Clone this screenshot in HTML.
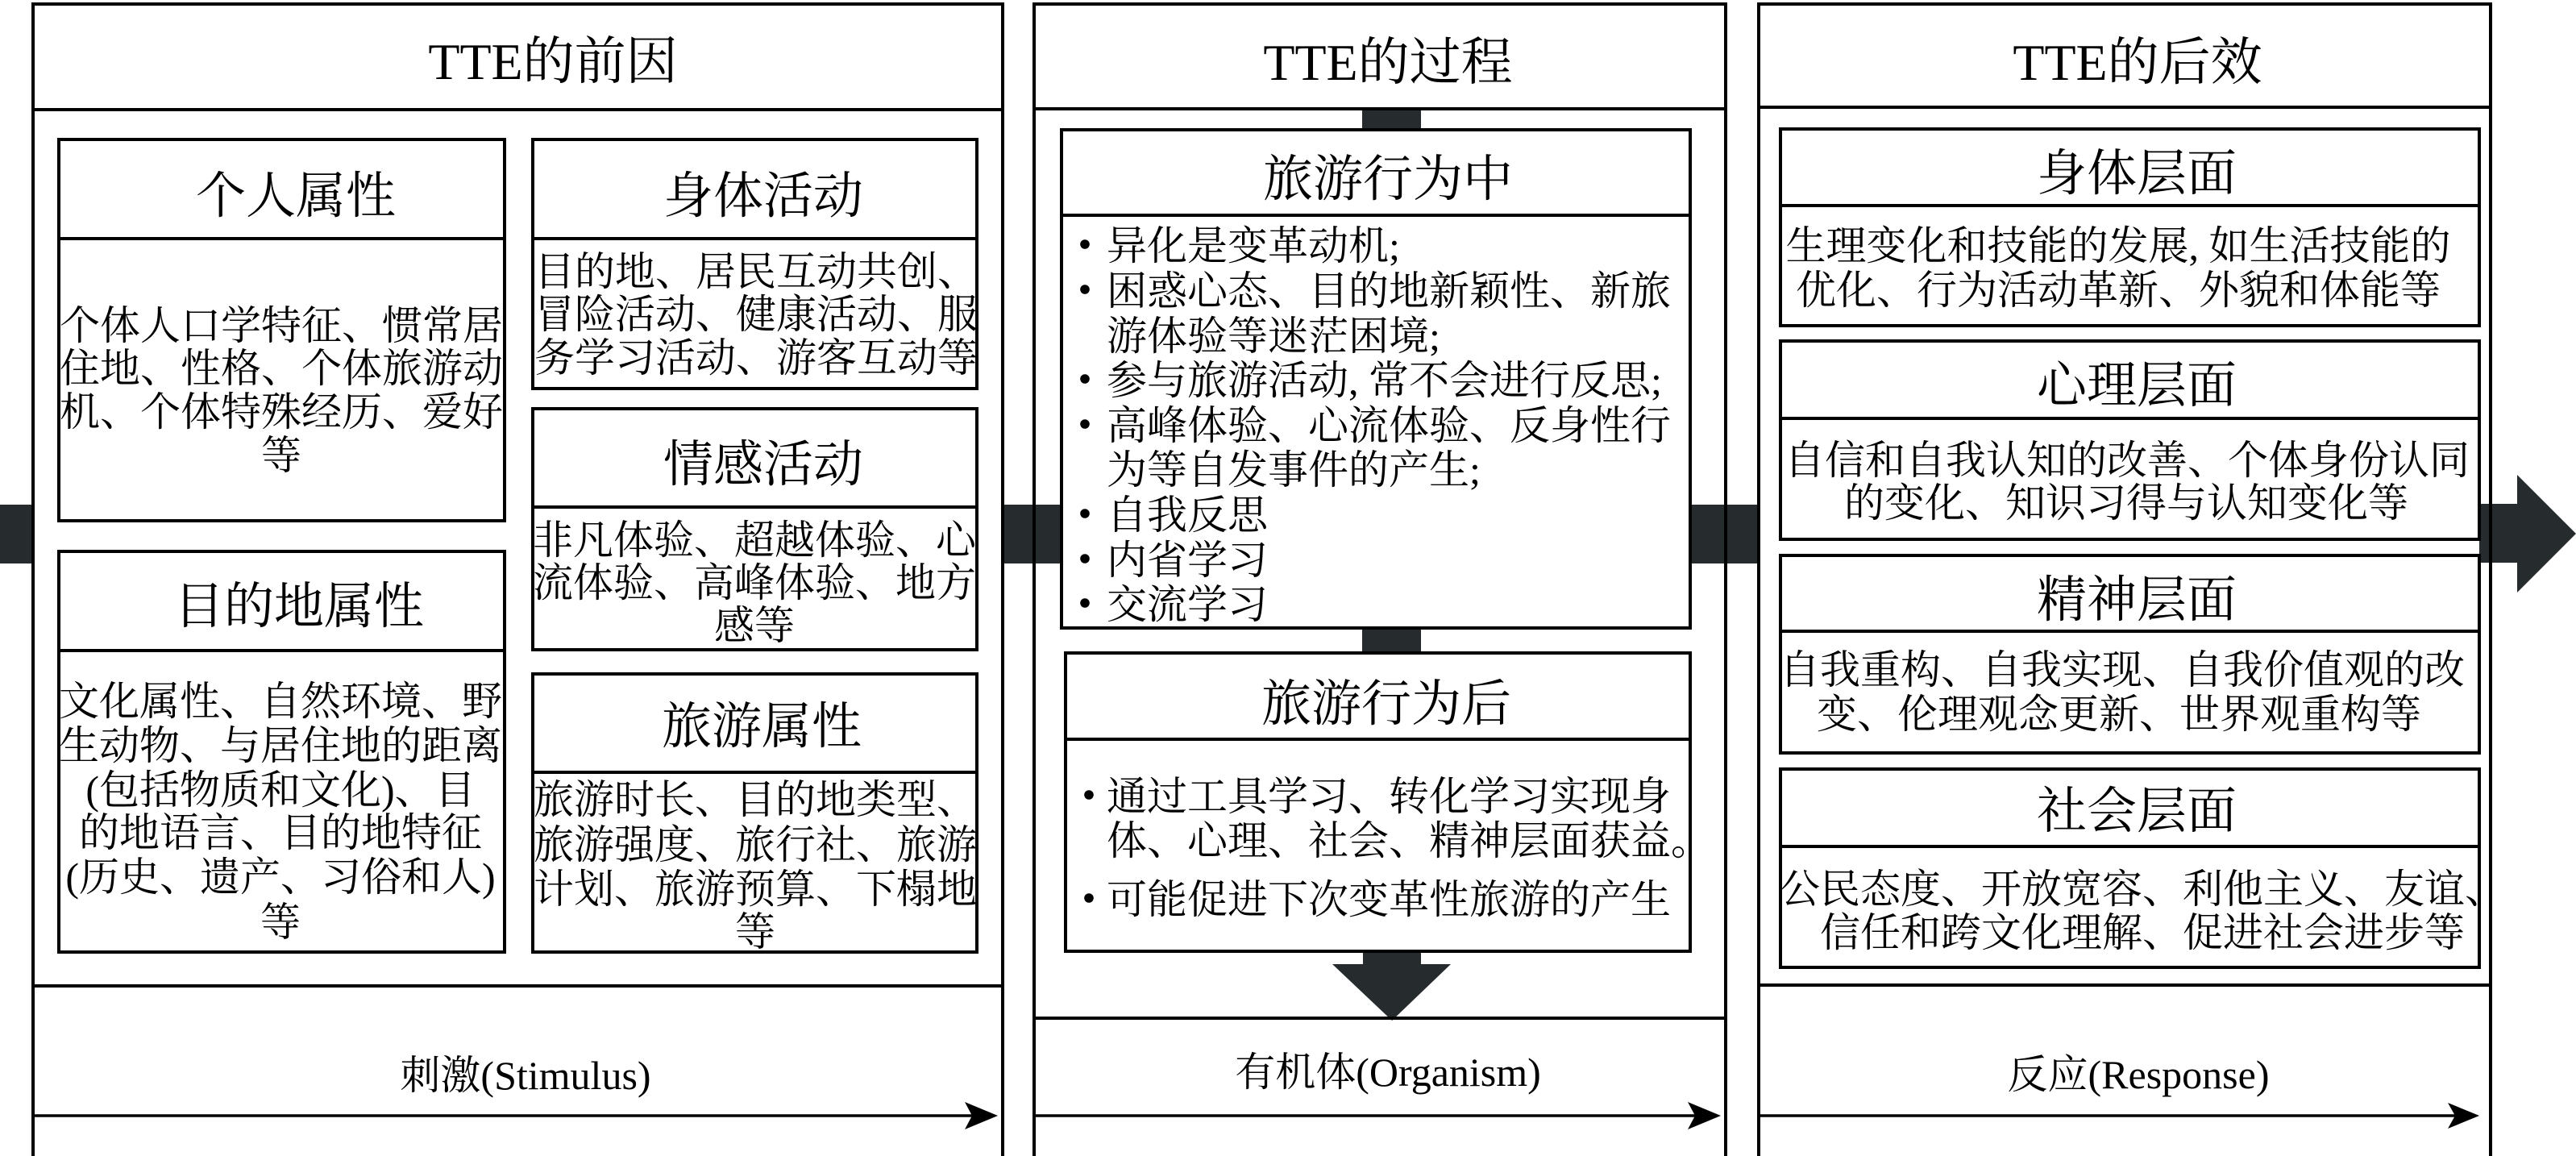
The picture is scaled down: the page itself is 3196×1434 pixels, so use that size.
<!DOCTYPE html>
<html><head><meta charset="utf-8"><style>
html,body{margin:0;padding:0;background:#fff;}
body{width:3196px;height:1434px;position:relative;overflow:hidden;}
svg{position:absolute;left:0;top:0;}
.t{position:absolute;white-space:nowrap;text-align:center;width:1000px;color:#000;font-family:"Liberation Serif","Noto Serif CJK SC",serif;}
.ti{font-size:64px;line-height:70px;height:70px;}
.h{font-size:62px;line-height:70px;height:70px;}
.b{font-size:50px;line-height:60px;height:60px;}
.l{text-align:left;width:auto;}
</style></head><body>
<svg width="3196" height="1434" viewBox="0 0 3196 1434">
<g fill="#262c2e">
<rect x="0" y="626" width="41" height="73"/>
<rect x="1244" y="626" width="73" height="73"/>
<rect x="2097" y="626" width="85" height="73"/>
<rect x="3076" y="625" width="48" height="73"/>
<polygon points="3123,589 3196,662 3123,735"/>
<rect x="1690" y="135" width="73" height="26"/>
<rect x="1690" y="779" width="73" height="32"/>
<rect x="1691" y="1178" width="72" height="20"/>
<polygon points="1653,1196 1800,1196 1727,1266"/>
</g>
<g fill="none" stroke="#000" stroke-width="4">
<rect x="41" y="5" width="1203" height="1440"/>
<line x1="41" y1="136" x2="1244" y2="136"/>
<line x1="41" y1="1223" x2="1244" y2="1223"/>
<rect x="1283" y="5" width="858" height="1440"/>
<line x1="1283" y1="135" x2="2141" y2="135"/>
<line x1="1283" y1="1263" x2="2141" y2="1263"/>
<rect x="2182" y="5" width="908" height="1440"/>
<line x1="2182" y1="133" x2="3090" y2="133"/>
<line x1="2182" y1="1222" x2="3090" y2="1222"/>

<rect x="73" y="173" width="553" height="473"/>
<line x1="73" y1="296" x2="626" y2="296"/>
<rect x="661" y="173" width="551" height="309"/>
<line x1="661" y1="296" x2="1212" y2="296"/>
<rect x="661" y="507" width="551" height="299"/>
<line x1="661" y1="629" x2="1212" y2="629"/>
<rect x="73" y="684" width="553" height="497"/>
<line x1="73" y1="807" x2="626" y2="807"/>
<rect x="661" y="836" width="551" height="345"/>
<line x1="661" y1="958" x2="1212" y2="958"/>

<rect x="1317" y="161" width="780" height="618"/>
<line x1="1317" y1="267" x2="2097" y2="267"/>
<rect x="1322" y="810" width="775" height="370"/>
<line x1="1322" y1="917" x2="2097" y2="917"/>

<rect x="2209" y="160" width="867" height="244"/>
<line x1="2209" y1="255" x2="3076" y2="255"/>
<rect x="2209" y="423" width="867" height="246"/>
<line x1="2209" y1="519" x2="3076" y2="519"/>
<rect x="2209" y="689" width="867" height="245"/>
<line x1="2209" y1="783" x2="3076" y2="783"/>
<rect x="2209" y="954" width="867" height="246"/>
<line x1="2209" y1="1050" x2="3076" y2="1050"/>
</g>
<g stroke="#000" stroke-width="3.6">
<line x1="43" y1="1384" x2="1210" y2="1384"/>
<line x1="1285" y1="1384" x2="2106" y2="1384"/>
<line x1="2184" y1="1384" x2="3047" y2="1384"/>
</g>
<g fill="#000">
<polygon points="1238,1384 1197,1367 1206,1384 1197,1401"/>
<polygon points="2135,1384 2094,1367 2103,1384 2094,1401"/>
<polygon points="3076,1384 3037,1368 3046,1384 3037,1400"/>
<circle cx="1346" cy="303" r="5.8"/>
<circle cx="1346" cy="359" r="5.8"/>
<circle cx="1346" cy="470" r="5.8"/>
<circle cx="1346" cy="526" r="5.8"/>
<circle cx="1346" cy="637" r="5.8"/>
<circle cx="1346" cy="693" r="5.8"/>
<circle cx="1346" cy="748" r="5.8"/>
<circle cx="1351" cy="986" r="5.8"/>
<circle cx="1351" cy="1114" r="5.8"/>
</g>
</svg>

<div class="t ti" style="left:186px;top:42px;">TTE的前因</div>
<div class="t ti" style="left:1222px;top:43px;">TTE的过程</div>
<div class="t ti" style="left:2152px;top:43px;">TTE的后效</div>

<div class="t h" style="left:-133px;top:209px;">个人属性</div>
<div class="t h" style="left:447px;top:209px;">身体活动</div>
<div class="t h" style="left:447px;top:542px;">情感活动</div>
<div class="t h" style="left:-129px;top:718px;">目的地属性</div>
<div class="t h" style="left:445px;top:867px;">旅游属性</div>
<div class="t h" style="left:1222px;top:188px;">旅游行为中</div>
<div class="t h" style="left:1220px;top:839px;">旅游行为后</div>
<div class="t h" style="left:2151px;top:181px;">身体层面</div>
<div class="t h" style="left:2151px;top:444px;">心理层面</div>
<div class="t h" style="left:2151px;top:710px;">精神层面</div>
<div class="t h" style="left:2151px;top:972px;">社会层面</div>

<div class="t b" style="left:-151px;top:374px;">个体人口学特征、惯常居</div>
<div class="t b" style="left:-151px;top:427px;">住地、性格、个体旅游动</div>
<div class="t b" style="left:-151px;top:481px;">机、个体特殊经历、爱好</div>
<div class="t b" style="left:-151px;top:535px;">等</div>

<div class="t b" style="left:438px;top:307px;">目的地、居民互动共创、</div>
<div class="t b" style="left:438px;top:360px;">冒险活动、健康活动、服</div>
<div class="t b" style="left:438px;top:414px;">务学习活动、游客互动等</div>

<div class="t b" style="left:436px;top:640px;">非凡体验、超越体验、心</div>
<div class="t b" style="left:436px;top:693px;">流体验、高峰体验、地方</div>
<div class="t b" style="left:436px;top:746px;">感等</div>

<div class="t b" style="left:-152px;top:840px;">文化属性、自然环境、野</div>
<div class="t b" style="left:-152px;top:895px;">生动物、与居住地的距离</div>
<div class="t b" style="left:-152px;top:950px;">(包括物质和文化)、目</div>
<div class="t b" style="left:-152px;top:1003px;">的地语言、目的地特征</div>
<div class="t b" style="left:-152px;top:1058px;">(历史、遗产、习俗和人)</div>
<div class="t b" style="left:-152px;top:1114px;">等</div>

<div class="t b" style="left:437px;top:962px;">旅游时长、目的地类型、</div>
<div class="t b" style="left:437px;top:1018px;">旅游强度、旅行社、旅游</div>
<div class="t b" style="left:437px;top:1073px;">计划、旅游预算、下榻地</div>
<div class="t b" style="left:437px;top:1126px;">等</div>

<div class="t b l" style="left:1373px;top:275px;">异化是变革动机;</div>
<div class="t b l" style="left:1373px;top:331px;">困惑心态、目的地新颖性、新旅</div>
<div class="t b l" style="left:1373px;top:387px;">游体验等迷茫困境;</div>
<div class="t b l" style="left:1373px;top:442px;">参与旅游活动, 常不会进行反思;</div>
<div class="t b l" style="left:1373px;top:498px;">高峰体验、心流体验、反身性行</div>
<div class="t b l" style="left:1373px;top:553px;">为等自发事件的产生;</div>
<div class="t b l" style="left:1373px;top:609px;">自我反思</div>
<div class="t b l" style="left:1373px;top:665px;">内省学习</div>
<div class="t b l" style="left:1373px;top:720px;">交流学习</div>

<div class="t b l" style="left:1373px;top:958px;">通过工具学习、转化学习实现身</div>
<div class="t b l" style="left:1373px;top:1013px;">体、心理、社会、精神层面获益。</div>
<div class="t b l" style="left:1373px;top:1086px;">可能促进下次变革性旅游的产生</div>

<div class="t b" style="left:2128px;top:275px;">生理变化和技能的发展, 如生活技能的</div>
<div class="t b" style="left:2128px;top:330px;">优化、行为活动革新、外貌和体能等</div>
<div class="t b" style="left:2139px;top:541px;">自信和自我认知的改善、个体身份认同</div>
<div class="t b" style="left:2138px;top:594px;">的变化、知识习得与认知变化等</div>
<div class="t b" style="left:2133px;top:801px;">自我重构、自我实现、自我价值观的改</div>
<div class="t b" style="left:2129px;top:856px;">变、伦理观念更新、世界观重构等</div>
<div class="t b" style="left:2158px;top:1073px;">公民态度、开放宽容、利他主义、友谊、</div>
<div class="t b" style="left:2158px;top:1127px;">信任和跨文化理解、促进社会进步等</div>

<div class="t b" style="left:152px;top:1304px;">刺激(Stimulus)</div>
<div class="t b" style="left:1222px;top:1300px;">有机体(Organism)</div>
<div class="t b" style="left:2153px;top:1303px;">反应(Response)</div>
</body></html>
